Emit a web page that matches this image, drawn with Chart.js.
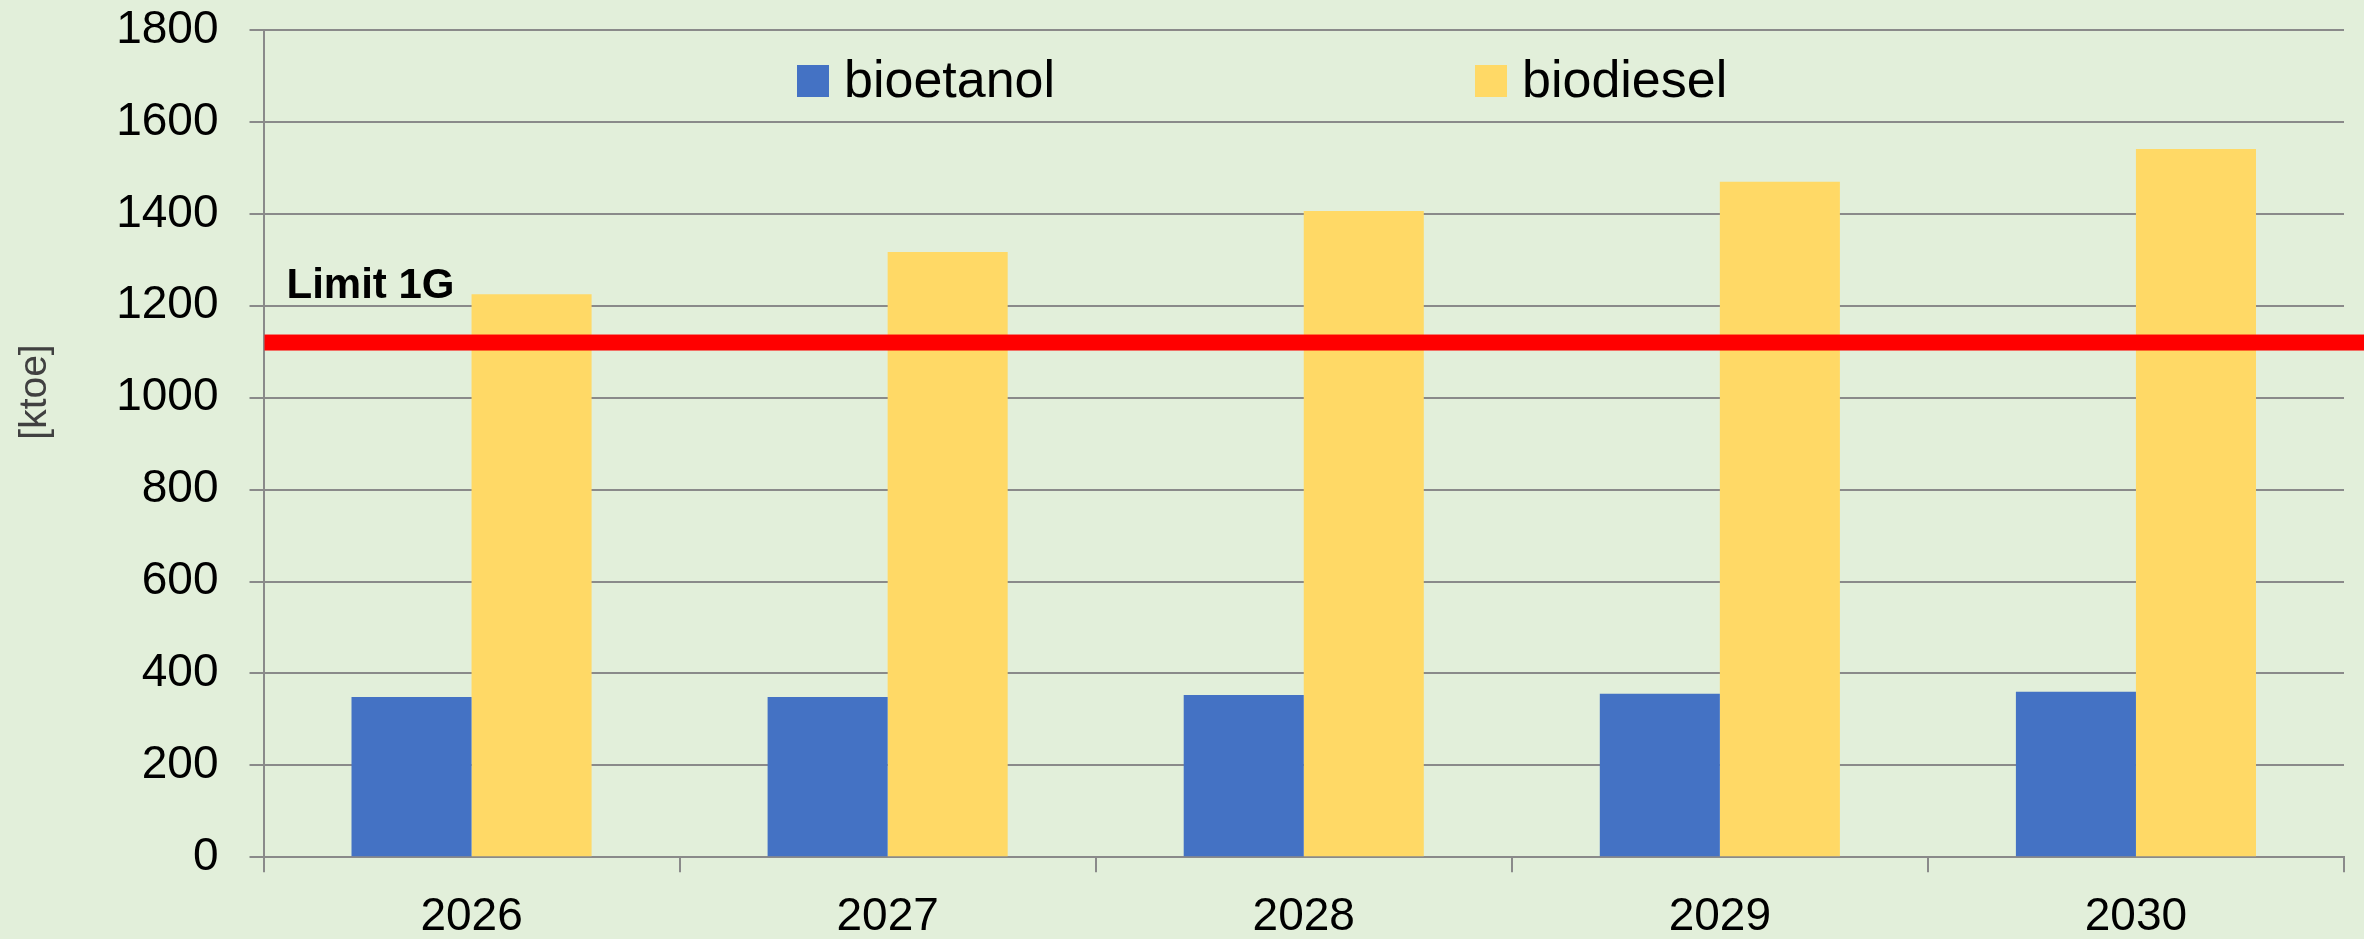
<!DOCTYPE html>
<html>
<head>
<meta charset="utf-8">
<script src="https://cdn.jsdelivr.net/npm/chart.js@4.4.1/dist/chart.umd.min.js"></script>
<style>
  html, body { margin: 0; padding: 0; background: #e2efda; }
  #wrap { width: 2364px; height: 939px; }
</style>
</head>
<body>
<div id="wrap"><canvas id="biofuelChart"></canvas></div>
<script>
const years = ['2026', '2027', '2028', '2029', '2030'];
const bioetanol = [349, 349, 353, 356, 360];
const biodiesel = [1225, 1317, 1406, 1470, 1541];
const limit1G = 1120; // red line
const yMin = 0;
const yMax = 1800;
const yStep = 200;

const gridGray = '#8a8a8a';
const fontFamily = '"Liberation Sans", Arial, sans-serif';

// red limit line, its label, the legend and the y title
const overlay = {
  id: 'overlay',
  afterDatasetsDraw(chart) {
    const { ctx, chartArea, scales: { y } } = chart;
    const yPos = y.getPixelForValue(limit1G);
    ctx.save();
    ctx.fillStyle = '#ff0000';
    ctx.fillRect(chartArea.left + 1, yPos - 8, chart.width - chartArea.left, 16);

    ctx.fillStyle = '#000';
    ctx.font = 'bold 42px ' + fontFamily;
    ctx.textAlign = 'left';
    ctx.textBaseline = 'alphabetic';
    ctx.fillText('Limit 1G', chartArea.left + 23, yPos - 45);

    // legend
    const legendX = [797, 1475];
    ctx.font = '52px ' + fontFamily;
    chart.data.datasets.forEach((ds, i) => {
      ctx.fillStyle = ds.backgroundColor;
      ctx.fillRect(legendX[i], 65, 32, 32);
      ctx.fillStyle = '#000';
      ctx.fillText(ds.label, legendX[i] + 47, 97);
    });

    // y axis title
    ctx.translate(35, 392);
    ctx.rotate(-Math.PI / 2);
    ctx.textAlign = 'center';
    ctx.textBaseline = 'middle';
    ctx.fillStyle = '#404040';
    ctx.font = '39px ' + fontFamily;
    ctx.fillText('[ktoe]', 0, 0);
    ctx.restore();
  }
};

new Chart(document.getElementById('biofuelChart'), {
  type: 'bar',
  data: {
    labels: years,
    datasets: [
      { label: 'bioetanol', data: bioetanol, backgroundColor: '#4472c4', borderWidth: 0 },
      { label: 'biodiesel', data: biodiesel, backgroundColor: '#ffd966', borderWidth: 0 }
    ]
  },
  options: {
    responsive: true,
    maintainAspectRatio: false,
    animation: false,
    layout: { padding: { top: 30, right: 20, bottom: 0, left: 0 } },
    datasets: { bar: { categoryPercentage: 0.577, barPercentage: 1.0 } },
    plugins: { legend: { display: false }, tooltip: { enabled: false } },
    scales: {
      x: {
        grid: { drawOnChartArea: false, drawTicks: true, tickLength: 15, color: gridGray, lineWidth: 2, offset: true },
        border: { display: true, color: gridGray, width: 2 },
        ticks: { color: '#000', padding: 17, font: { family: fontFamily, size: 46 } },
        afterFit(scale) { scale.height = 81.7; }
      },
      y: {
        min: yMin,
        max: yMax,
        ticks: {
          stepSize: yStep,
          color: '#000',
          padding: 31,
          font: { family: fontFamily, size: 46 },
          callback: (v) => String(v)
        },
        grid: { color: gridGray, lineWidth: 2, tickLength: 14 },
        border: { display: true, color: gridGray, width: 2 },
        afterFit(scale) {
          scale.width = 263.5;
          scale.paddingTop = 0;
          scale.paddingBottom = 0;
        }
      }
    }
  },
  plugins: [overlay]
});
</script>
</body>
</html>
